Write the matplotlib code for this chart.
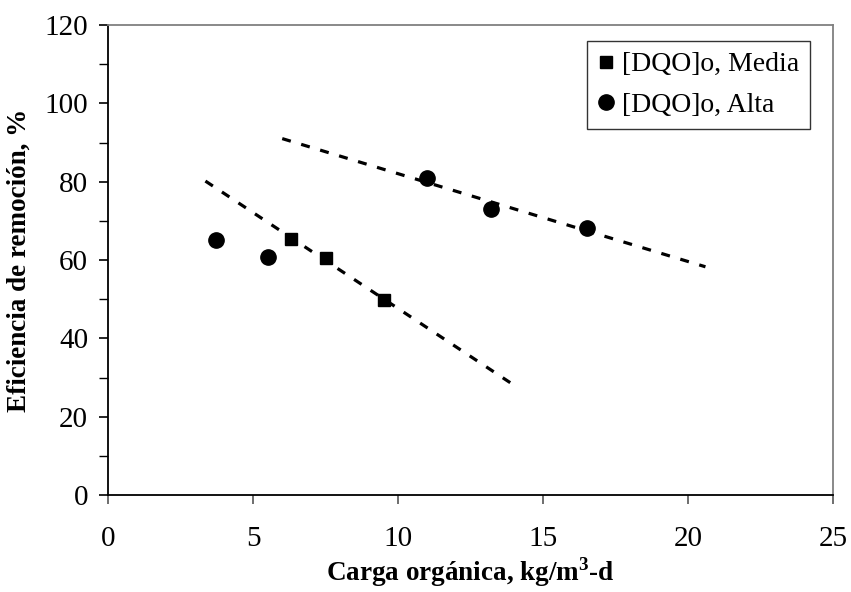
import numpy as np
import matplotlib
matplotlib.use("Agg")
import matplotlib.pyplot as plt
from matplotlib.ticker import MultipleLocator

# Data
media_x = [6.3, 7.5, 9.5]
media_y = [65.3, 60.5, 49.8]
alta_x = [3.7, 5.5, 11.0, 13.2, 16.5]
alta_y = [65.1, 60.8, 80.9, 73.0, 68.2]

# trend line ranges
media_trend_range = [3.35, 14.05]
alta_trend_range = [6.0, 20.6]

plt.rcParams['font.family'] = ['Liberation Serif', 'DejaVu Serif']
plt.rcParams['mathtext.fontset'] = 'custom'
plt.rcParams['mathtext.rm'] = 'Liberation Serif'
plt.rcParams['mathtext.bf'] = 'Liberation Serif:bold'

fig = plt.figure(figsize=(8.51, 5.92), dpi=100)
ax = fig.add_axes([108.3/851, 1-495/592, (833-108.3)/851, (495-25)/592])

# trendlines (linear fits)
pm = np.polyfit(media_x, media_y, 1)
xm = np.array(media_trend_range)
ax.plot(xm, np.polyval(pm, xm), color='black', lw=2.3, dashes=(2.8, 3.4), zorder=2)

pa = np.polyfit(alta_x[2:], alta_y[2:], 1)
xa = np.array(alta_trend_range)
ax.plot(xa, np.polyval(pa, xa), color='black', lw=2.3, dashes=(2.8, 3.4), zorder=2)

ax.plot(media_x, media_y, 's', color='black', ms=8.3, label='[DQO]o, Media', zorder=3)
ax.plot(alta_x, alta_y, 'o', color='black', ms=11, label='[DQO]o, Alta', zorder=3)

ax.set_xlim(0, 25)
ax.set_ylim(0, 120)
ax.xaxis.set_major_locator(MultipleLocator(5))
ax.yaxis.set_major_locator(MultipleLocator(20))
ax.yaxis.set_minor_locator(MultipleLocator(10))

for s in ['top', 'right']:
    ax.spines[s].set_color('#808080')
    ax.spines[s].set_linewidth(1.3)
for s in ['left', 'bottom']:
    ax.spines[s].set_color('black')
    ax.spines[s].set_linewidth(1.3)

ax.tick_params(axis='x', which='major', direction='out', length=6.5, width=1.2,
               labelsize=21, pad=16, color='#555555')
ax.tick_params(axis='y', which='major', direction='out', length=6.5, width=1.2,
               labelsize=21, pad=8)
ax.tick_params(axis='y', which='minor', direction='out', length=6.5, width=1.0)

ax.set_xlabel(r'Carga orgánica, kg/m$^{\mathbf{3}}$-d', fontsize=19.5, fontweight='bold', labelpad=2)
ax.set_ylabel('Eficiencia de remoción, %', fontsize=19.5, fontweight='bold', labelpad=9)

leg = ax.legend(loc='upper right', bbox_to_anchor=((810-108.3)/(833-108.3), (495-40.7)/470),
                frameon=True, fancybox=False, fontsize=20, handlelength=0.6,
                handletextpad=0.25, borderpad=0.4, labelspacing=0.55, borderaxespad=0)
leg.get_frame().set_edgecolor('black')
leg.get_frame().set_linewidth(1.0)

fig.savefig('out.png', dpi=100)
